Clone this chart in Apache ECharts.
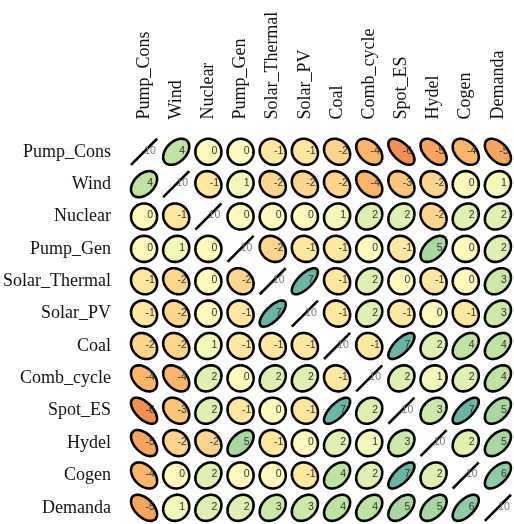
<!DOCTYPE html>
<html>
<head>
<meta charset="utf-8">
<script src="https://cdn.jsdelivr.net/npm/echarts@6/dist/echarts.min.js"></script>
<style>
  html, body { margin: 0; padding: 0; background: #fff; }
  #chart { width: 514px; height: 524px; }
</style>
</head>
<body>
<div id="chart"></div>
<script>
// Variables, in matrix order
const variables = ['Pump_Cons', 'Wind', 'Nuclear', 'Pump_Gen', 'Solar_Thermal', 'Solar_PV',
  'Coal', 'Comb_cycle', 'Spot_ES', 'Hydel', 'Cogen', 'Demanda'];

// Correlation coefficients x 10 (rounded), one row per variable
const corrRows = [
  [10,  4,  0,  0, -1, -1, -2, -4, -6, -5, -4, -5],
  [ 4, 10, -1,  1, -2, -2, -2, -4, -3, -2,  0,  1],
  [ 0, -1, 10,  0,  0,  0,  1,  2,  2, -2,  2,  2],
  [ 0,  1,  0, 10, -2, -1, -1,  0, -1,  5,  0,  2],
  [-1, -2,  0, -2, 10,  7, -1,  2,  0, -1,  0,  3],
  [-1, -2,  0, -1,  7, 10, -1,  2, -1,  0, -1,  3],
  [-2, -2,  1, -1, -1, -1, 10, -1,  7,  2,  4,  4],
  [-4, -4,  2,  0,  2,  2, -1, 10,  2,  1,  2,  4],
  [-6, -3,  2, -1,  0, -1,  7,  2, 10,  3,  7,  5],
  [-5, -2, -2,  5, -1,  0,  2,  1,  3, 10,  2,  5],
  [-4,  0,  2,  0,  0, -1,  4,  2,  7,  2, 10,  6],
  [-5,  1,  2,  2,  3,  3,  4,  4,  5,  5,  6, 10]
];

// Diverging colour ramp from -10 to 10 (step 1)
const rampColors = ['#9E0142', '#C0263F', '#D53E4F', '#E8683F', '#F39050', '#F7A55C', '#FBB468',
  '#FDC57A', '#FDD58C', '#FEE8A0', '#FFF9BC', '#F3F8B8', '#DFF0B2', '#CDE8A8', '#BFE3A0',
  '#A8D8A0', '#90CCA3', '#6AB5A6', '#4A9EB0', '#3288BD', '#5E4FA2'];

const labelFont = '"Liberation Serif", "Times New Roman", serif';

const cells = [];
corrRows.forEach((row, i) => {
  row.forEach((v, j) => cells.push([j, i, v]));
});

// One cell: an ellipse whose eccentricity follows the correlation, plus its number
function renderCell(params, api) {
  const col = api.value(0), row = api.value(1), v = api.value(2);
  const c = api.coord([col, row]);
  const size = api.size([1, 1]);
  const R = size[0] * 0.405;
  const children = [];
  const r = v / 10;
  if (v >= 10) {
    children.push({
      type: 'line',
      shape: { x1: c[0] - R, y1: c[1] + R, x2: c[0] + R, y2: c[1] - R },
      style: { stroke: '#000', lineWidth: 2.6 }
    });
  } else {
    const d = Math.acos(r);
    const pts = [];
    const n = 120;
    for (let k = 0; k < n; k++) {
      const t = (k / n) * Math.PI * 2;
      pts.push([c[0] + R * Math.cos(t + d / 2), c[1] - R * Math.cos(t - d / 2)]);
    }
    children.push({
      type: 'polygon',
      shape: { points: pts },
      style: { fill: api.visual('color'), stroke: '#000', lineWidth: 2.6 }
    });
  }
  children.push({
    type: 'text',
    z2: 10,
    style: {
      x: c[0] + 6, y: c[1] - 1,
      text: String(v),
      fill: v >= 10 ? '#7a7a7a' : '#333',
      font: '10.5px "Liberation Sans", Arial, sans-serif',
      align: 'center', verticalAlign: 'middle'
    }
  });
  return { type: 'group', children: children };
}

const chart = echarts.init(document.getElementById('chart'), null, { renderer: 'canvas' });
chart.setOption({
  animation: false,
  backgroundColor: '#fff',
  grid: { left: 124.6, top: 135.6, width: 392.4, height: 392.4 },
  xAxis: {
    type: 'category', position: 'top', data: variables,
    axisLine: { show: false }, axisTick: { show: false }, splitLine: { show: false },
    axisLabel: {
      rotate: -90, margin: 16, interval: 0,
      color: '#111', fontSize: 18, fontFamily: labelFont
    }
  },
  yAxis: {
    type: 'category', inverse: true, data: variables,
    axisLine: { show: false }, axisTick: { show: false }, splitLine: { show: false },
    axisLabel: {
      margin: 17, interval: 0, padding: [0, 0, 4, 0],
      color: '#111', fontSize: 18, fontFamily: labelFont
    }
  },
  visualMap: {
    show: false, type: 'continuous', min: -10, max: 10, dimension: 2,
    inRange: { color: rampColors }
  },
  series: [{
    type: 'custom',
    data: cells,
    renderItem: renderCell,
    clip: false
  }]
});
</script>
</body>
</html>
